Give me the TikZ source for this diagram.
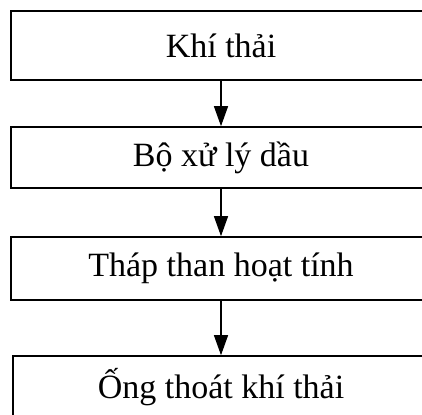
\documentclass[tikz,border=0pt]{standalone}
\usepackage{fontspec}
\setmainfont{Liberation Serif}
\usetikzlibrary{arrows.meta}

\tikzset{
  stage/.style={shape=rectangle, draw=black, line width=1.6pt, minimum width=420pt, inner sep=0pt,
    font=\fontsize{34}{40}\selectfont},
  flow/.style={line width=1.2pt, -{Triangle[width=14pt,length=20pt]}}
}

\begin{document}
\begin{tikzpicture}[x=1pt,y=1pt]
				\useasboundingbox (0,0) rectangle (422,414);
				\clip (0,0) rectangle (422,414);
				\node[stage, minimum height=69pt] (khi) at (221,368.5) {Khí thải};
				\node[stage, minimum height=61pt] (dau) at (221,256.5) {Bộ xử lý dầu};
				\node[stage, minimum height=63pt] (than) at (221,145.5) {Tháp than hoạt tính};
				\node[stage, minimum height=63pt, minimum width=416pt] (ong) at (221,26.5) {Ống thoát khí thải};
				\path[flow] (khi) edge (dau);
				\path[flow] (dau) edge (than);
				\path[flow] (than) edge (ong);
			\end{tikzpicture}
\end{document}
